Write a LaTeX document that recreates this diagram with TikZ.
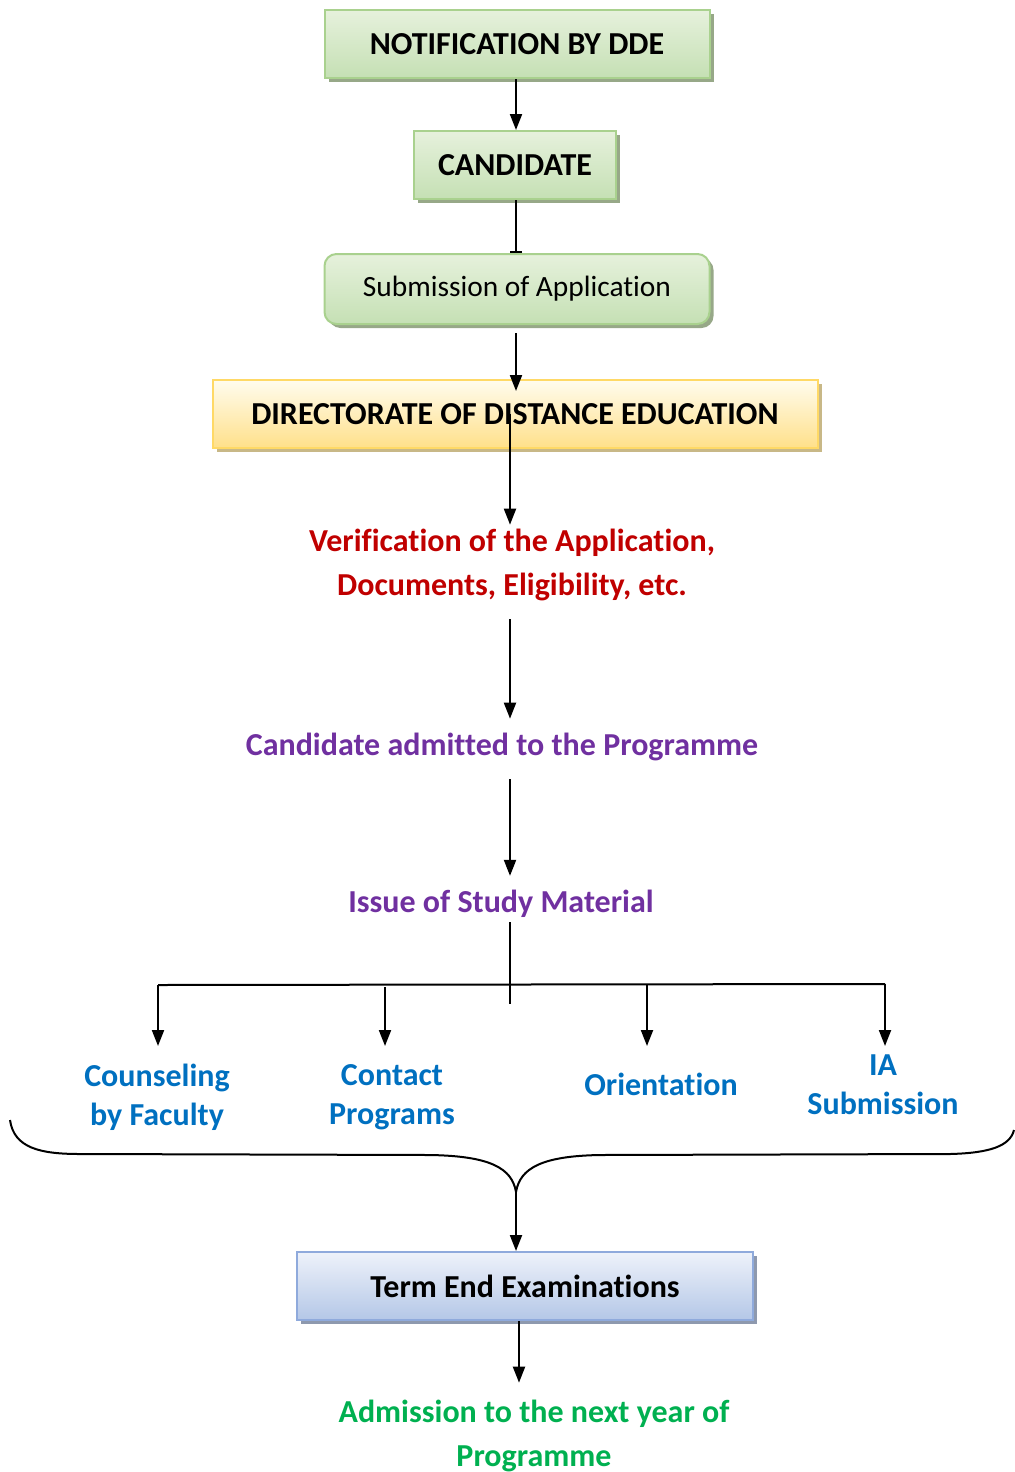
\documentclass[tikz,border=0pt]{standalone}
\usepackage{fontspec}
\setmainfont{Carlito}[Ligatures=NoCommon]
\usetikzlibrary{arrows.meta,shadows}

\definecolor{grnTop}{HTML}{E6F1DC}
\definecolor{grnBot}{HTML}{C5E0B4}
\definecolor{grnLine}{HTML}{A9D18E}
\definecolor{grnShadow}{HTML}{97A888}
\definecolor{ylwTop}{HTML}{FFFCEE}
\definecolor{ylwBot}{HTML}{FFE08A}
\definecolor{ylwLine}{HTML}{FFD966}
\definecolor{ylwShadow}{HTML}{C8B887}
\definecolor{bluTop}{HTML}{EEF2FA}
\definecolor{bluBot}{HTML}{B4C7E7}
\definecolor{bluLine}{HTML}{8FAADC}
\definecolor{bluShadow}{HTML}{8E99AE}
\definecolor{txtRed}{HTML}{C00000}
\definecolor{txtPurple}{HTML}{7030A0}
\definecolor{txtBlue}{HTML}{0070C0}
\definecolor{txtGreen}{HTML}{00B050}

\tikzset{
  box/.style={draw, line width=1pt, minimum height=34pt, inner sep=0pt,
    font=\fontsize{16}{19}\selectfont\bfseries, shading=axis},
  greenbox/.style={box, draw=grnLine, top color=grnTop, bottom color=grnBot,
    drop shadow={shadow xshift=2pt, shadow yshift=-2pt, fill=grnShadow, opacity=1}},
  yellowbox/.style={box, draw=ylwLine, top color=ylwTop, bottom color=ylwBot,
    drop shadow={shadow xshift=2pt, shadow yshift=-2pt, fill=ylwShadow, opacity=1}},
  bluebox/.style={box, draw=bluLine, top color=bluTop, bottom color=bluBot,
    drop shadow={shadow xshift=2pt, shadow yshift=-2pt, fill=bluShadow, opacity=1}},
  flowtext/.style={font=\fontsize{16}{22}\selectfont\bfseries, align=center, inner sep=2pt},
  branchtext/.style={flowtext, text=txtBlue, font=\fontsize{16}{19.5}\selectfont\bfseries},
  arr/.style={line width=1pt, -{Triangle[width=6pt,length=8pt]}},
  gap/.style={shorten <=7pt, shorten >=5pt},
}

\begin{document}
\begin{tikzpicture}[x=0.5pt, y=-0.5pt]
    \useasboundingbox (0,0) rectangle (1014,1472);

    % boxes
    \node[greenbox, minimum width=192.5pt] (notif) at (517,44) {NOTIFICATION BY DDE};
    \node[greenbox, minimum width=101pt] (cand) at (515,165) {CANDIDATE};
    \node[greenbox, minimum width=192.5pt, minimum height=35pt, rounded corners=6pt,
      font=\fontsize{14.7}{17}\selectfont] (sub) at (517,289) {Submission of Application};
    \node[yellowbox, minimum width=302.5pt] (dde) at (515,414) {DIRECTORATE OF DISTANCE EDUCATION};

    % texts
    \node[flowtext, text=txtRed] (verif) at (512,565)
      {Verification of the Application,\\Documents, Eligibility, etc.};
    \node[flowtext, text=txtPurple] (admit) at (502,747) {Candidate admitted to the Programme};
    \node[flowtext, text=txtPurple] (issue) at (501,904) {Issue of Study Material};

    \node[branchtext] (couns) at (157,1097) {Counseling\\by Faculty};
    \node[branchtext] (contact) at (392,1097) {Contact\\Programs};
    \node[branchtext] (orient) at (661,1084) {Orientation};
    \node[branchtext] (ia) at (883,1085) {IA\\Submission};

    \node[bluebox, minimum width=228pt] (term) at (525,1286) {Term End Examinations};
    \node[flowtext, text=txtGreen] (next) at (534,1436)
      {Admission to the next year of\\Programme};

    % spine and branch points
    \coordinate (spine) at (516,0);
    \coordinate (axis) at (510,0);
    \coordinate (stem) at (510,1004);
    \coordinate (d1) at (158,985);
    \coordinate (d2) at (385,987);
    \coordinate (d3) at (647,985);
    \coordinate (d4) at (885,984);
    \coordinate (tips) at (0,1046);
    \coordinate (cusp) at (516,1192);

    % connectors
    \draw[arr] (notif.south -| spine) -- (cand.north -| spine);
    \draw[line width=1pt, -{Bar[width=6pt]}] (cand.south -| spine) -- (sub.north -| spine);
    \draw[arr, shorten <=4pt, shorten >=-6pt] (sub.south -| spine) -- (dde.north -| spine);
    \draw[arr] (dde.center -| axis) -- (verif.north -| axis);
    \draw[arr, gap] (verif.south -| axis) -- (admit.north -| axis);
    \draw[arr, gap] (admit.south -| axis) -- (issue.north -| axis);
    \draw[line width=1pt] (issue.south -| axis) -- (stem);
    \draw[line width=1pt] (d1) -- (d4);
    \draw[arr] (d1) -- (d1 |- tips);
    \draw[arr] (d2) -- (d2 |- tips);
    \draw[arr] (d3) -- (d3 |- tips);
    \draw[arr] (d4) -- (d4 |- tips);

    % brace
    \draw[line width=1pt]
      (10,1120) .. controls (14,1148) and (40,1154) .. (80,1154)
      -- (430,1155) .. controls (490,1156) and (512,1168) .. (cusp)
      .. controls (520,1168) and (542,1156) .. (600,1155)
      -- (950,1154) .. controls (990,1153) and (1010,1146) .. (1014,1130);

    \draw[arr] (cusp) -- (cusp |- term.north);
    \draw[arr, shorten >=6.5pt] ([xshift=-3pt]term.south) -- ([xshift=-3pt]term.south |- next.north);
\end{tikzpicture}
\end{document}
